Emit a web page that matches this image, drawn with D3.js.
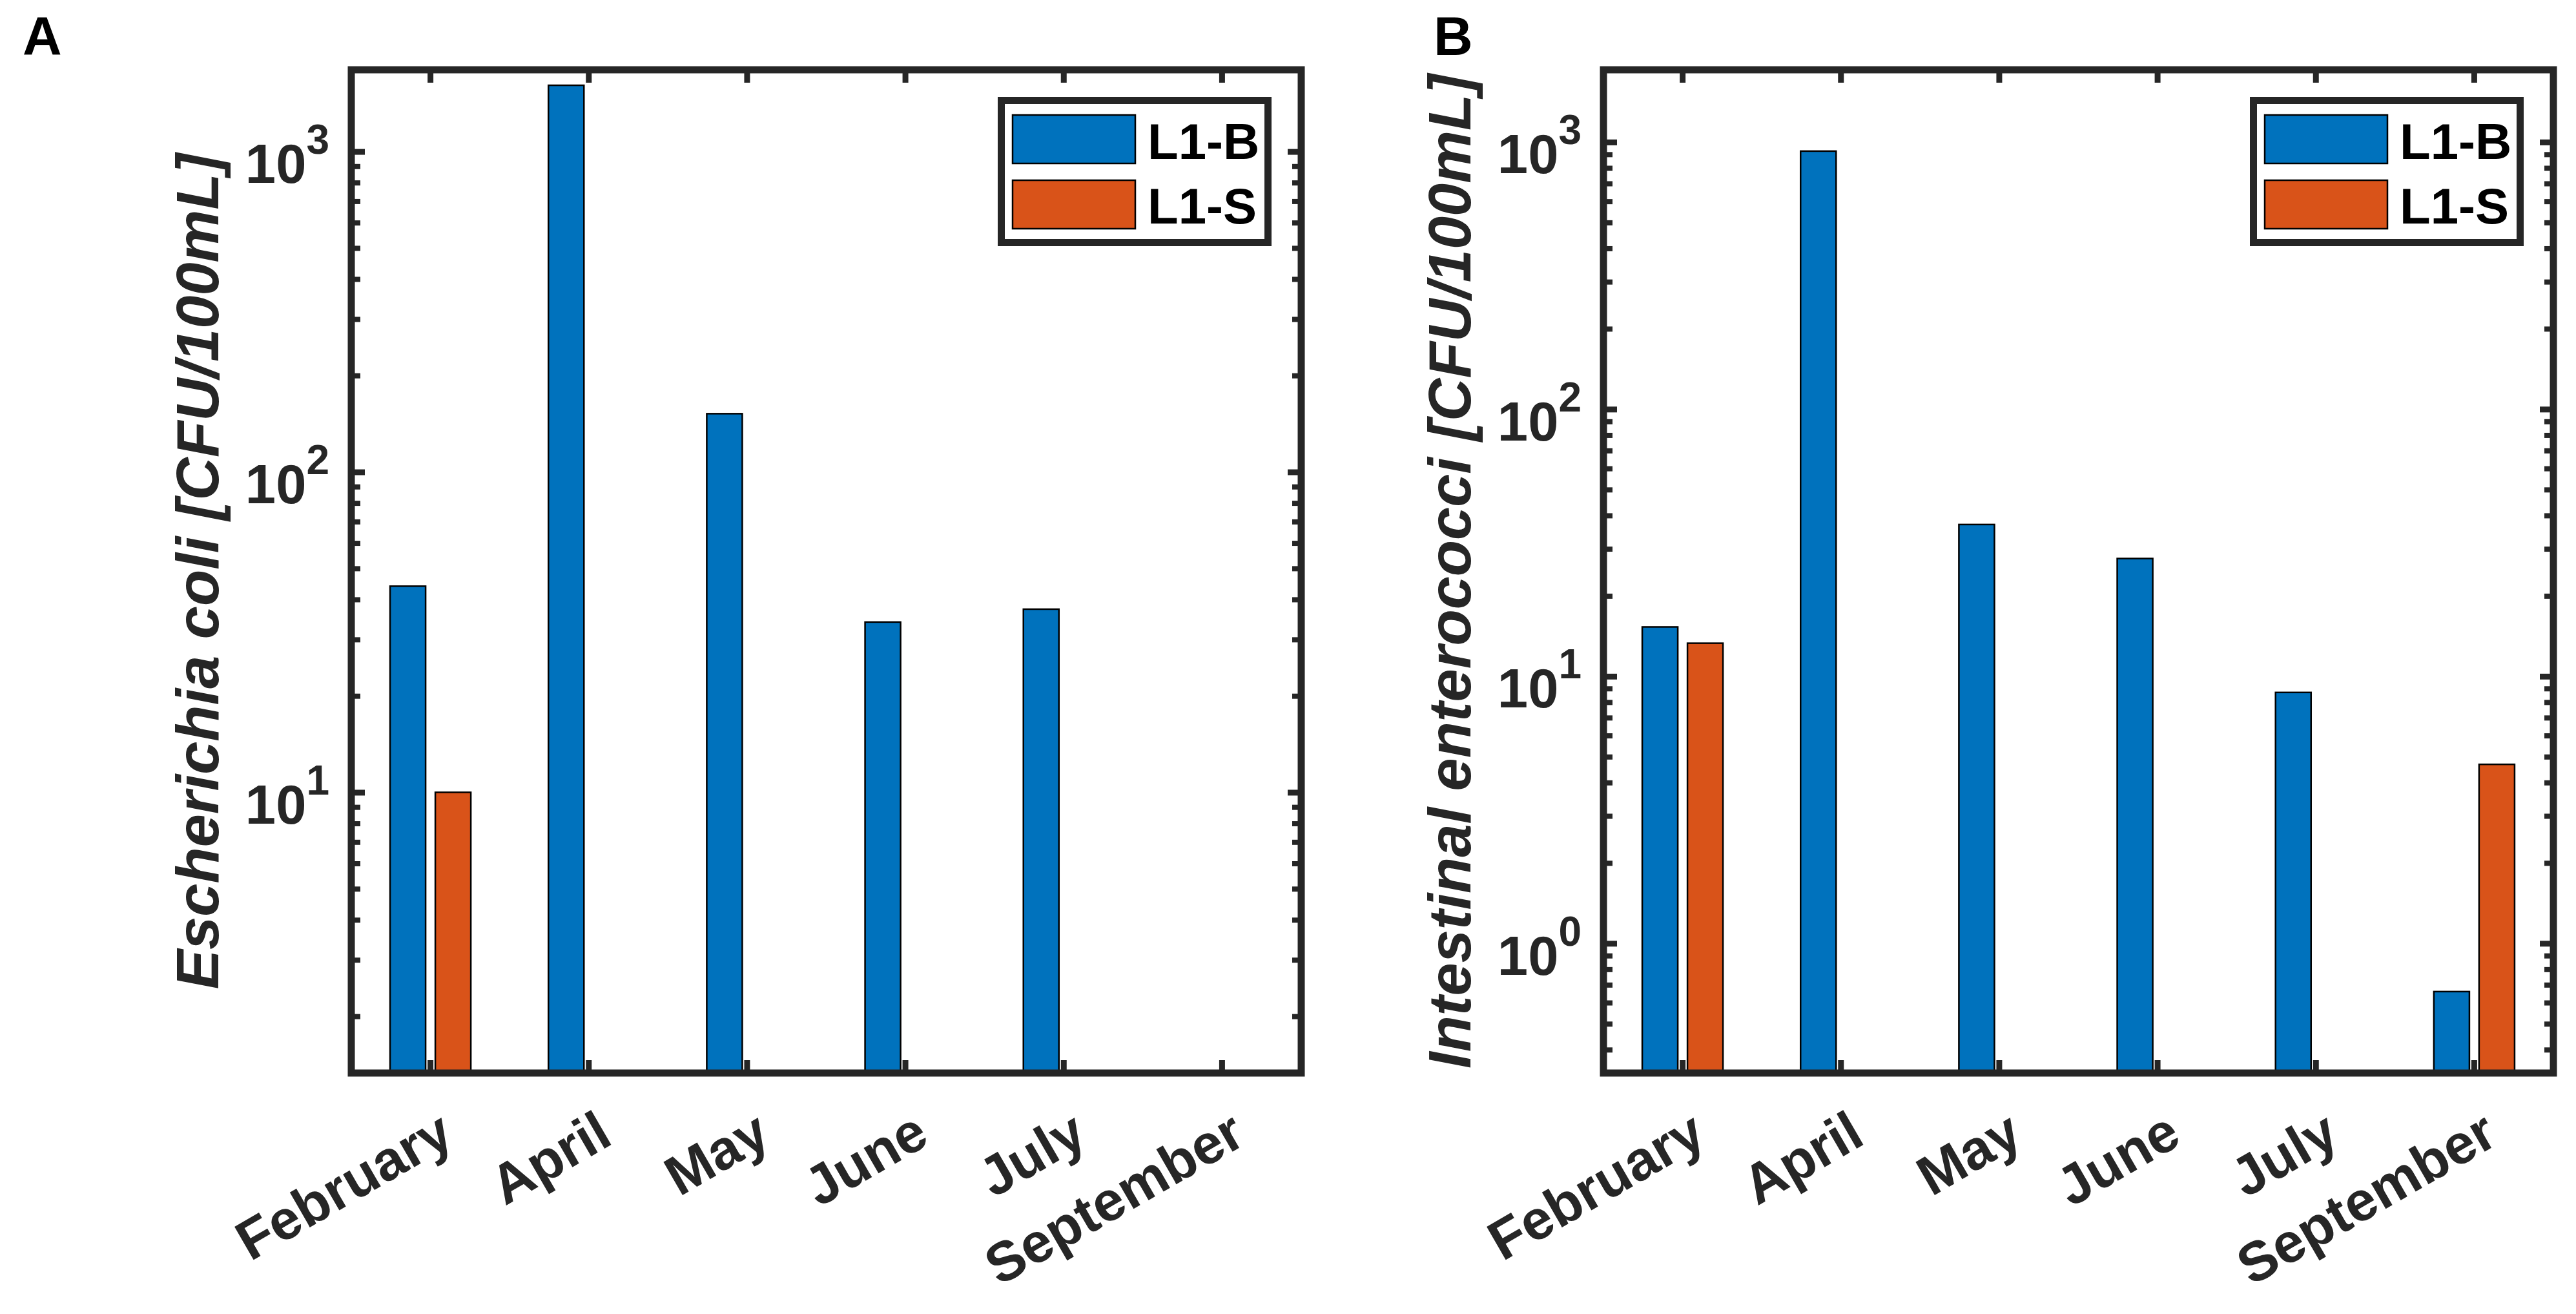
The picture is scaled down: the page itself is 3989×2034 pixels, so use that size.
<!DOCTYPE html>
<html>
<head>
<meta charset="utf-8">
<script src="https://cdn.jsdelivr.net/npm/d3@7"></script>
<style>
  html, body { margin: 0; padding: 0; background: #fff; }
  svg { display: block; }
</style>
</head>
<body>
<svg id="chart"></svg>
<script>
// -------- DATA --------
const months = ["February", "April", "May", "June", "July", "September"];
const series = ["L1-B", "L1-S"];
const seriesColors = ["#0072BD", "#D95319"];

// Panel A: Escherichia coli (null = no bar)
const ecoliB = [44, 1610, 152, 34, 37.3, null];
const ecoliS = [10, null, null, null, null, null];
const ecoliTicks = [10, 100, 1000];
const ecoliLimits = [1.33, 1800];

// Panel B: Intestinal enterococci
const enteroB = [15.3, 925, 37, 27.6, 8.7, 0.66];
const enteroS = [13.3, null, null, null, null, 4.68];
const enteroTicks = [1, 10, 100, 1000];
const enteroLimits = [0.327, 1865];

// -------- LAYOUT --------
const width = 3989, height = 2034;
const plotTop = 108, plotBottom = 1661, plotW = 1471;
const ink = "#262626";
const fontFamily = "'Liberation Sans', Arial, Helvetica, sans-serif";

const svg = d3.select("#chart")
  .attr("width", width)
  .attr("height", height)
  .attr("viewBox", [0, 0, width, height]);

svg.append("rect").attr("width", width).attr("height", height).attr("fill", "#fff");

const panels = [
  { letter: "A", letterX: 35, left: 544, label: "Escherichia coli [CFU/100mL]",
    values: [ecoliB, ecoliS], ticks: ecoliTicks, limits: ecoliLimits },
  { letter: "B", letterX: 2220, left: 2483, label: "Intestinal enterococci [CFU/100mL]",
    values: [enteroB, enteroS], ticks: enteroTicks, limits: enteroLimits }
];

const isPow10 = v => Math.abs(Math.log10(v) - Math.round(Math.log10(v))) < 1e-9;

function cleanAxis(g, w) {
  g.attr("font-family", null).attr("font-size", null);
  g.select(".domain").remove();
  g.selectAll(".tick line").attr("stroke", ink).attr("stroke-width", w);
}

function drawPanel(p) {
  const right = p.left + plotW;
  const g = svg.append("g");

  // scales
  const x0 = d3.scaleBand().domain(months).range([p.left, right]);
  const bw = x0.bandwidth();
  const x1 = d3.scaleBand().domain(series)
    .range([bw * 0.245, bw * 0.755])
    .paddingInner(0.214);
  const y = d3.scaleLog().domain(p.limits).range([plotBottom, plotTop]);
  const minors = y.ticks().filter(v => !isPow10(v));

  // --- ticks (under the bars) ---
  g.append("g").attr("transform", `translate(${p.left},0)`)
    .call(d3.axisLeft(y).tickValues(minors).tickSize(-14).tickFormat(""))
    .call(a => cleanAxis(a, 8));
  g.append("g").attr("transform", `translate(${right},0)`)
    .call(d3.axisRight(y).tickValues(minors).tickSize(-14).tickFormat(""))
    .call(a => cleanAxis(a, 8));
  g.append("g").attr("transform", `translate(${right},0)`)
    .call(d3.axisRight(y).tickValues(p.ticks).tickSize(-21).tickFormat(""))
    .call(a => cleanAxis(a, 9));
  g.append("g").attr("transform", `translate(0,${plotTop})`)
    .call(d3.axisTop(x0).tickSize(-20).tickFormat(""))
    .call(a => cleanAxis(a, 9));
  g.append("g").attr("transform", `translate(0,${plotBottom})`)
    .call(d3.axisBottom(x0).tickSize(-20).tickFormat(""))
    .call(a => cleanAxis(a, 9));

  // major y ticks with 10^n labels
  const yAxisG = g.append("g").attr("transform", `translate(${p.left},0)`)
    .call(d3.axisLeft(y).tickValues(p.ticks).tickSize(-21).tickPadding(34).tickFormat(""))
    .call(a => cleanAxis(a, 9));
  yAxisG.selectAll(".tick text").each(function(d) {
    const t = d3.select(this)
      .attr("dy", null)
      .attr("y", 48)
      .attr("fill", ink)
      .style("font-family", fontFamily)
      .style("font-weight", "bold")
      .style("font-size", "85px");
    t.append("tspan").text("10");
    t.append("tspan")
      .attr("dy", -45)
      .style("font-size", "64px")
      .text(Math.round(Math.log10(d)));
  });

  // --- bars ---
  const barData = [];
  p.values.forEach((vals, si) => {
    vals.forEach((v, mi) => {
      if (v != null) barData.push({ month: months[mi], s: series[si], si, v });
    });
  });
  g.append("g").selectAll("rect")
    .data(barData)
    .join("rect")
      .attr("x", d => x0(d.month) + x1(d.s))
      .attr("y", d => y(d.v))
      .attr("width", x1.bandwidth())
      .attr("height", d => plotBottom - y(d.v))
      .attr("fill", d => seriesColors[d.si])
      .attr("stroke", "#000")
      .attr("stroke-width", 2.5);

  // --- box ---
  g.append("rect")
    .attr("x", p.left).attr("y", plotTop)
    .attr("width", plotW).attr("height", plotBottom - plotTop)
    .attr("fill", "none")
    .attr("stroke", ink)
    .attr("stroke-width", 11);

  // --- x labels (rotated) ---
  g.append("g").selectAll("text")
    .data(months)
    .join("text")
      .attr("transform", m => `translate(${x0(m) + bw / 2 + 40},${plotBottom + 108}) rotate(-30)`)
      .attr("text-anchor", "end")
      .attr("fill", ink)
      .style("font-family", fontFamily)
      .style("font-weight", "bold")
      .style("font-size", "86px")
      .text(m => m);

  // --- y label ---
  g.append("text")
    .attr("transform", `translate(${p.left - 206},${(plotTop + plotBottom) / 2}) rotate(-90)`)
    .attr("text-anchor", "middle")
    .attr("fill", ink)
    .style("font-family", fontFamily)
    .style("font-weight", "bold")
    .style("font-style", "italic")
    .style("font-size", "92px")
    .text(p.label);

  // --- legend ---
  const lx = right - 464.5, ly = 155.5;
  const leg = g.append("g");
  leg.append("rect")
    .attr("x", lx).attr("y", ly)
    .attr("width", 413).attr("height", 220)
    .attr("fill", "#fff")
    .attr("stroke", ink)
    .attr("stroke-width", 11);
  series.forEach((s, i) => {
    leg.append("rect")
      .attr("x", lx + 17.5).attr("y", ly + 22.5 + i * 101)
      .attr("width", 190).attr("height", 75)
      .attr("fill", seriesColors[i])
      .attr("stroke", "#000")
      .attr("stroke-width", 2.5);
    leg.append("text")
      .attr("x", lx + 226.5).attr("y", ly + 90.5 + i * 100)
      .attr("fill", "#000")
      .style("font-family", fontFamily)
      .style("font-weight", "bold")
      .style("font-size", "78px")
      .text(s);
  });

  // --- panel letter ---
  svg.append("text")
    .attr("x", p.letterX).attr("y", 85)
    .attr("fill", "#000")
    .style("font-family", fontFamily)
    .style("font-weight", "bold")
    .style("font-size", "84px")
    .text(p.letter);
}

panels.forEach(drawPanel);
</script>
</body>
</html>
